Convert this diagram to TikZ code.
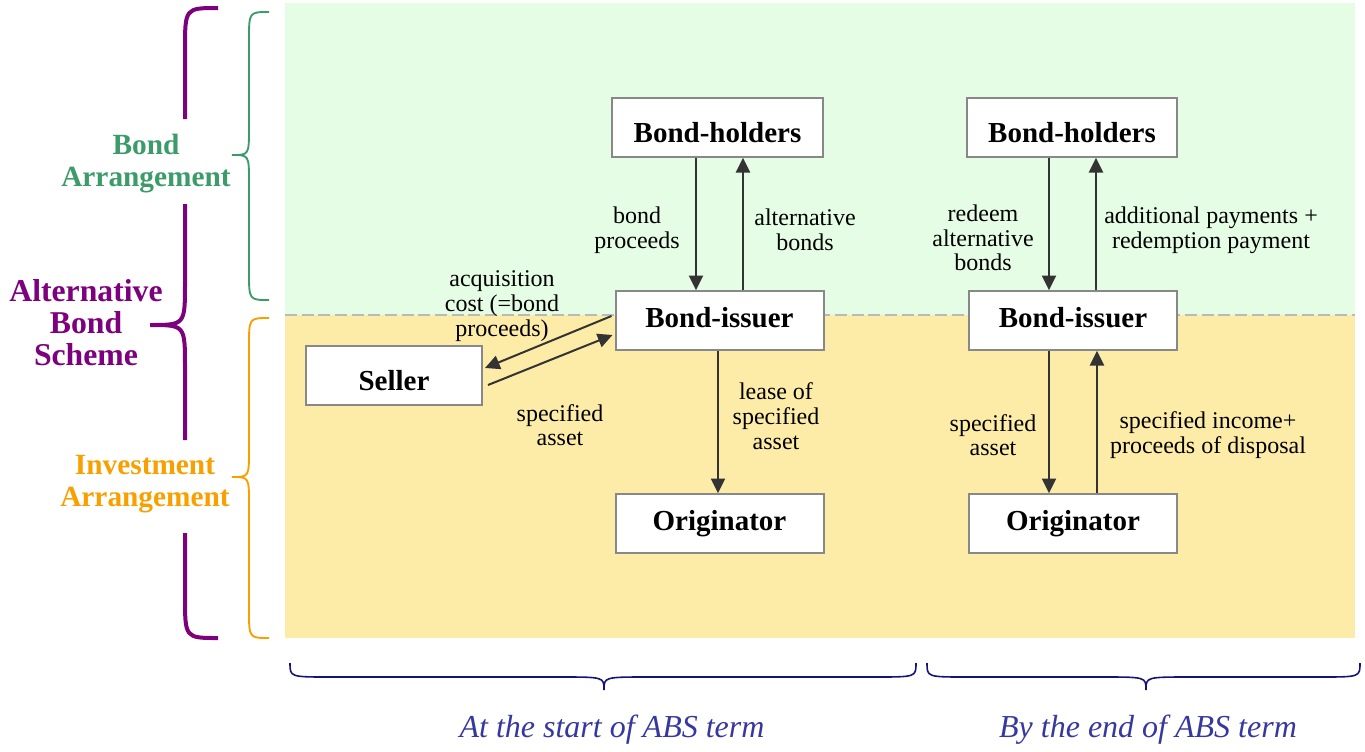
\documentclass[tikz,border=0pt]{standalone}
\usepackage{fontspec}
\setmainfont{Liberation Serif}
\usetikzlibrary{arrows.meta,calc}
\definecolor{bggreen}{RGB}{228,253,228}
\definecolor{bgyellow}{RGB}{253,236,168}
\definecolor{brpurple}{RGB}{125,0,125}
\definecolor{brgreen}{RGB}{60,155,105}
\definecolor{brorange}{RGB}{248,160,0}
\definecolor{brnavy}{RGB}{20,20,120}
\definecolor{captxt}{RGB}{55,55,160}
\definecolor{boxgray}{RGB}{136,136,136}
\definecolor{arrowgray}{RGB}{51,51,51}
\definecolor{dashgray}{RGB}{185,185,185}
\newcommand{\bl}[2]{\raisebox{#1}[0pt][0pt]{#2}}
\begin{document}
\begin{tikzpicture}[x=0.75pt,y=-0.75pt,
  entity/.style={draw=boxgray,line width=1.5pt,fill=white,minimum width=156pt,minimum height=44pt,inner sep=0pt,font=\fontsize{21.75}{24}\selectfont\bfseries},
  flow/.style={draw=arrowgray,line width=1.5pt,-{Triangle[length=11pt,width=10.5pt]}},
  lbl/.style={align=center,inner sep=0pt,font=\fontsize{18}{18.5}\selectfont},
  sidelbl/.style={align=center,inner sep=0pt,font=\fontsize{22}{24}\selectfont\bfseries},
  caption/.style={inner sep=0pt,text=captxt,font=\fontsize{24}{26}\selectfont\itshape}]
\useasboundingbox (0,0) rectangle (1365,751);
% backgrounds
\fill[bggreen] (285,3) rectangle (1355,315);
\fill[bgyellow] (285,315) rectangle (1355,638);
\draw[dashgray,line width=1.5pt,dash pattern=on 9pt off 3.5pt] (285,315) -- (1355,315);

% nodes left
\node[entity,minimum width=158pt] (bhl) at (717.5,127.5) {\bl{-11.4pt}{Bond-holders}};
\node[entity] (bil) at (719.5,320.5) {\bl{-5pt}{Bond-issuer}};
\node[entity,minimum width=132pt] (sel) at (394,375.5) {\bl{-11.2pt}{Seller}};
\node[entity] (orl) at (719.5,523.5) {\bl{-5.5pt}{Originator}};
% nodes right
\node[entity,minimum width=157.5pt] (bhr) at (1072,127.5) {\bl{-11.4pt}{Bond-holders}};
\node[entity] (bir) at (1073,320.5) {\bl{-5pt}{Bond-issuer}};
\node[entity] (orr) at (1073,523.5) {\bl{-5.5pt}{Originator}};

% arrows left
\draw[flow] (bhl.south -| 696,0) -- (bil.north -| 696,0);
\draw[flow] (bil.north -| 743,0) -- (bhl.south -| 743,0);
\draw[flow] (bil.south -| 718,0) -- (orl.north -| 718,0);
\draw[flow] ($(bil.west)+(-3,-4.5)$) -- ($(sel.east)+(2,-7.5)$);
\draw[flow] ($(sel.east)+(5,9.5)$) -- ($(bil.west)+(-2,14.5)$);
% arrows right
\draw[flow] (bhr.south -| 1049,0) -- (bir.north -| 1049,0);
\draw[flow] (bir.north -| 1096,0) -- (bhr.south -| 1096,0);
\draw[flow] (bir.south -| 1049,0) -- (orr.north -| 1049,0);
\draw[flow] (orr.north -| 1097,0) -- (bir.south -| 1097,0);

% labels
\node[lbl] (l1) at (637,230) {bond\\proceeds};
\node[lbl] (l2) at (805,230) {alternative\\bonds};
\node[lbl] (l3) at (502,306) {acquisition\\cost (=bond\\proceeds)};
\node[lbl] (l4) at (560,425) {specified\\asset};
\node[lbl] (l5) at (776,416) {lease of\\specified\\asset};
\node[lbl] (l6) at (983,238) {redeem\\alternative\\bonds};
\node[lbl] (l7) at (1211,230) {additional payments +\\redemption payment};
\node[lbl] (l8) at (993,435) {specified\\asset};
\node[lbl] (l9) at (1208,435) {specified income+\\proceeds of disposal};

% purple brace
\begin{scope}[brpurple,line width=3pt]
\draw (218,8) .. controls (185,8) .. (185,50) -- (185,119);
\draw (185,204) -- (185,283) .. controls (185,325) .. (150,325) .. controls (185,325) .. (185,367) -- (185,440);
\draw (185,533) -- (185,596) .. controls (185,638) .. (218,638);
\end{scope}
% green brace
\draw[brgreen,line width=1.4pt] (269,12) .. controls (249,12) .. (249,40) -- (249,128) .. controls (249,155) .. (232,155) .. controls (249,155) .. (249,182) -- (249,272) .. controls (249,300) .. (269,300);
% orange brace
\draw[brorange,line width=1.4pt] (269,318) .. controls (249,318) .. (249,346) -- (249,450) .. controls (249,477) .. (232,477) .. controls (249,477) .. (249,504) -- (249,610) .. controls (249,638) .. (269,638);

% side labels
\node[sidelbl,text=brgreen] (sbond) at (146,164) {Bond\\Arrangement};
\node[sidelbl,text=brpurple,font=\fontsize{23.8}{24}\selectfont\bfseries] (salt) at (86,323) {Alternative\\Bond\\Scheme};
\node[sidelbl,text=brorange] (sinv) at (145,484) {Investment\\Arrangement};

% bottom braces
\draw[brnavy,line width=1.2pt] (290,663) .. controls (290,677) .. (330,677) -- (560,677) .. controls (604,677) .. (604,690) .. controls (604,677) .. (648,677) -- (875,677) .. controls (916,677) .. (916,663);
\draw[brnavy,line width=1.2pt] (927,663) .. controls (927,677) .. (967,677) -- (1102,677) .. controls (1146,677) .. (1146,690) .. controls (1146,677) .. (1190,677) -- (1320,677) .. controls (1360,677) .. (1360,663);

\node[caption] (c1) at (612,730) {At the start of ABS term};
\node[caption] (c2) at (1148,730) {By the end of ABS term};
\end{tikzpicture}
\end{document}
